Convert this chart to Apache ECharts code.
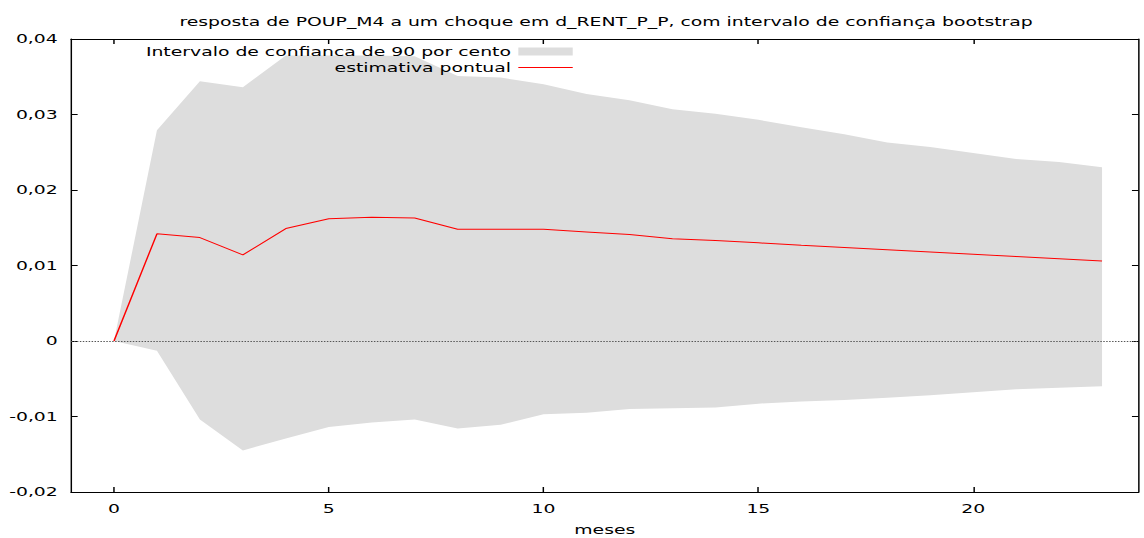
<!DOCTYPE html>
<html>
<head>
<meta charset="utf-8">
<script src="https://cdn.jsdelivr.net/npm/echarts@6/dist/echarts.min.js"></script>
<style>
  html, body { margin: 0; padding: 0; background: #ffffff; overflow: hidden; }
  #wrap { width: 1144px; height: 538px; overflow: hidden; }
  /* the chart is laid out narrower and stretched sideways, giving the wide gnuplot-style lettering */
  #chart { width: 778px; height: 538px; transform: scaleX(1.47044); transform-origin: 0 0; }
</style>
</head>
<body>
<div id="wrap"><div id="chart"></div></div>
<script>
// horizon in months
const meses = [0, 1, 2, 3, 4, 5, 6, 7, 8, 9, 10, 11, 12, 13, 14, 15, 16, 17, 18, 19, 20, 21, 22, 23];

// point estimate of the impulse response
const estimativa = [0, 0.0142, 0.0137, 0.0114, 0.0149, 0.0162, 0.0164, 0.0163, 0.0148, 0.0148,
  0.0148, 0.01445, 0.0141, 0.01355, 0.0133, 0.0130, 0.01268, 0.0124, 0.0121, 0.0118,
  0.01149, 0.01118, 0.01088, 0.01058];

// 90% bootstrap band
const superior = [0, 0.0279, 0.0344, 0.0336, 0.0378, 0.0378, 0.0378, 0.0377, 0.0351, 0.0349,
  0.0340, 0.0327, 0.0319, 0.0307, 0.0301, 0.0293, 0.0283, 0.0274, 0.0263, 0.0257,
  0.0249, 0.0241, 0.0237, 0.0230];
const inferior = [0, -0.0013, -0.0104, -0.0145, -0.0129, -0.0114, -0.0108, -0.0104, -0.0116, -0.0111,
  -0.0097, -0.0095, -0.0090, -0.0089, -0.0088, -0.0083, -0.0080, -0.0078, -0.0075, -0.0072,
  -0.0068, -0.0064, -0.0062, -0.0060];

// axis ticks and their labels
const xTicks = [0, 5, 10, 15, 20];
const yTickLabels = ['-0,02', '-0,01', '0', '0,01', '0,02', '0,03', '0,04'];
const yMin = -0.02, yMax = 0.04, yStep = 0.01;

const titulo = 'resposta de POUP_M4 a um choque em d_RENT_P_P, com intervalo de confiança bootstrap';
const nomeBanda = 'Intervalo de confianca de 90 por cento';
const nomeLinha = 'estimativa pontual';

const FONT = 'DejaVu Sans';
const txt = { color: '#000000', fontFamily: FONT, fontSize: 12.8 };
const BAND = '#dddddd';
const RED = '#ff0000';

const chart = echarts.init(document.getElementById('chart'), null, { renderer: 'svg' });

const xCommon = {
  type: 'value', min: -1, max: 23.85,
  splitLine: { show: false },
  axisLine: { show: true, onZero: false, lineStyle: { color: '#000000', width: 1 } },
  axisTick: { show: true, inside: true, length: 5, customValues: xTicks, lineStyle: { color: '#000000', width: 1 } }
};
const yCommon = {
  type: 'value', min: yMin, max: yMax, interval: yStep,
  splitLine: { show: false },
  axisLine: { show: true, onZero: false, lineStyle: { color: '#000000', width: 1 } },
  axisTick: { show: true, inside: true, length: 4.5, lineStyle: { color: '#000000', width: 1 } }
};

// the band is filled in two halves: upper edge down to zero, lower edge up to zero
const bandHalf = (name, values) => ({
  name: name,
  type: 'line',
  data: meses.map((m, i) => [m, values[i]]),
  symbol: 'none', silent: true,
  color: BAND,
  itemStyle: { color: BAND },
  lineStyle: { width: 0, opacity: 0 },
  areaStyle: { color: BAND, opacity: 1, origin: 'auto' },
  z: 1
});

chart.setOption({
  animation: false,
  backgroundColor: '#ffffff',
  title: {
    text: titulo,
    left: 117, top: 10,
    textStyle: Object.assign({ fontWeight: 'normal' }, txt)
  },
  legend: {
    orient: 'vertical', align: 'right',
    right: 383, top: 40,
    itemWidth: 37, itemHeight: 8, itemGap: 3,
    selectedMode: false,
    textStyle: Object.assign({ lineHeight: 13 }, txt),
    data: [
      { name: nomeBanda, icon: 'rect', itemStyle: { color: BAND } },
      {
        name: nomeLinha,
        itemStyle: { color: 'rgba(0,0,0,0)', borderWidth: 0, opacity: 0 },
        lineStyle: { color: RED, width: 1 }
      }
    ]
  },
  grid: { left: 48.3, right: 3.7, top: 39, bottom: 46, containLabel: false, outerBoundsMode: 'none' },
  xAxis: [
    Object.assign({}, xCommon, {
      position: 'bottom',
      axisLabel: Object.assign({ show: true, margin: 10.5, customValues: xTicks }, txt),
      name: 'meses', nameLocation: 'middle', nameGap: 31.5,
      nameTextStyle: txt
    }),
    Object.assign({}, xCommon, { position: 'top', axisLabel: { show: false } })
  ],
  yAxis: [
    Object.assign({}, yCommon, {
      position: 'left',
      axisLabel: Object.assign({
        show: true, margin: 9,
        formatter: v => yTickLabels[Math.round((v - yMin) / yStep)]
      }, txt)
    }),
    Object.assign({}, yCommon, { position: 'right', axisLabel: { show: false } })
  ],
  series: [
    bandHalf(nomeBanda, superior),
    bandHalf(nomeBanda, inferior),
    {
      name: nomeLinha,
      type: 'line',
      data: meses.map((m, i) => [m, estimativa[i]]),
      symbol: 'none', silent: true,
      color: RED,
      lineStyle: { color: RED, width: 1 },
      z: 3,
      markLine: {
        silent: true,
        symbol: ['none', 'none'],
        label: { show: false },
        lineStyle: { color: '#555555', type: [1, 1], width: 1 },
        data: [{ yAxis: 0 }]
      }
    }
  ]
});
</script>
</body>
</html>
